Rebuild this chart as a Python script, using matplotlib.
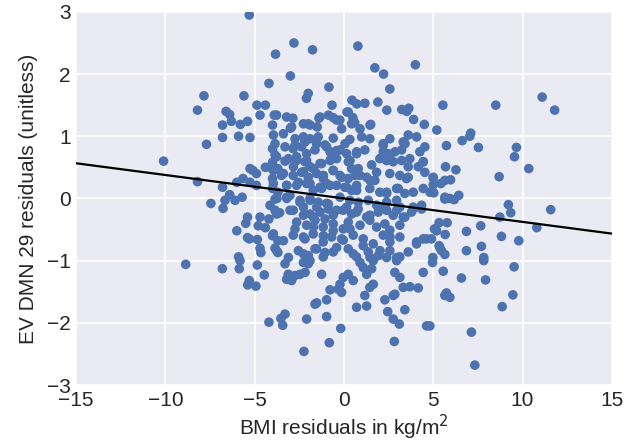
import numpy as np
import matplotlib
matplotlib.use("Agg")
import matplotlib.pyplot as plt

# residual pairs (BMI residual, EV DMN 29 residual)
pts = [
    # upper part
    (-5.3, 2.95), (-3.83, 2.32), (-3.0, 1.97), (-4.2, 1.85), (-7.84, 1.65), (-8.2, 1.42),
    (-5.6, 1.65), (-4.87, 1.5), (-4.4, 1.5), (-6.6, 1.4), (-6.4, 1.35), (-6.8, 1.18),
    (-6.3, 1.24), (-5.8, 1.19), (-5.4, 1.24), (-4.7, 1.34), (-3.9, 1.34), (-4.0, 1.18),
    (-2.8, 2.5), (-1.76, 2.39), (0.78, 2.45), (4.0, 2.15), (1.73, 2.1), (2.22, 2.0),
    (2.57, 1.76), (-0.84, 1.79), (-2.0, 1.69), (-2.1, 1.61), (-0.67, 1.5), (0.45, 1.58),
    (0.72, 1.52), (1.17, 1.53), (1.9, 1.55), (2.4, 1.42), (3.24, 1.43), (3.52, 1.4),
    (3.63, 1.45), (3.9, 1.27), (4.5, 1.19), (-2.86, 1.29), (-1.4, 1.29), (-0.6, 1.3),
    (-0.23, 1.26), (0.17, 1.39), (0.5, 1.3), (0.6, 1.22), (1.5, 1.19), (-2.0, 1.2),
    (-1.5, 1.15), (-3.0, 1.13), (5.54, 1.5), (8.5, 1.5), (11.1, 1.63), (11.8, 1.42),
    (5.2, 1.1), (7.1, 1.05),
    # left middle
    (-7.7, 0.87), (-10.1, 0.6), (-8.2, 0.27), (-6.8, 0.18), (-7.45, -0.08), (-6.77, -0.16),
    (-6.66, -0.03), (-6.4, 0.06), (-6.1, -0.03), (-5.7, 0.02), (-6.0, 0.26), (-5.65, 0.32),
    (-5.26, 0.26), (-5.1, 0.45), (-4.4, 0.5), (-4.9, 0.21), (-5.4, -0.3), (-5.5, -0.4),
    (-6.0, -0.52), (-4.7, -0.3), (-4.8, -0.44), (-4.4, -0.47), (-5.3, -0.65), (-5.4, -0.63),
    (-5.9, -0.94), (-4.7, -0.8), (-4.65, -0.87), (-4.0, -0.6), (-3.7, -0.68), (-3.86, -0.8),
    (-3.7, -0.87), (-6.8, 0.98), (-5.9, 1.0), (-5.26, 0.98), (-4.0, 0.8), (-3.86, 0.7),
    (-4.0, 0.58), (-4.14, 0.5), (-3.7, 0.48), (-3.5, 0.37), (-4.0, 0.32), (-4.0, 0.16),
    (-3.7, 0.1), (-3.75, 0.0), (-4.14, -0.11), (-3.86, -0.19), (-3.6, -0.23), (-3.3, 0.6),
    (-3.2, 0.21), (-3.2, 0.0), (-5.26, 0.48), (-4.9, 0.4), (-4.85, -0.66), (-4.2, -0.33),
    # dense centre
    (-2.74, 0.96), (-2.27, 0.99), (-1.9, 0.96), (-1.44, 0.99), (-0.6, 0.97), (0.33, 0.95),
    (0.99, 0.99), (1.45, 0.96), (2.2, 0.88), (2.57, 0.96), (3.32, 0.91), (3.6, 1.02), (4.07, 0.99),
    (-2.84, 0.8), (-2.37, 0.83), (-2.09, 0.72), (-1.62, 0.78), (-1.06, 0.86), (-0.78, 0.75),
    (-0.22, 0.78), (0.15, 0.72), (0.71, 0.75), (1.17, 0.78), (2.2, 0.75), (2.57, 0.69),
    (3.23, 0.78), (3.69, 0.64), (4.25, 0.75), (4.53, 0.83),
    (-2.65, 0.61), (-2.18, 0.59), (-1.9, 0.51), (-1.25, 0.56), (-0.78, 0.61), (-0.41, 0.64),
    (0.24, 0.59), (0.8, 0.48), (1.55, 0.54), (2.01, 0.64), (2.39, 0.61), (2.76, 0.59),
    (3.6, 0.51), (4.16, 0.51), (4.44, 0.59),
    (-2.84, 0.37), (-2.37, 0.42), (-2.0, 0.34), (-1.53, 0.4), (-1.16, 0.32), (-0.6, 0.45),
    (-0.22, 0.37), (0.24, 0.32), (0.61, 0.37), (1.27, 0.34), (1.73, 0.29), (2.57, 0.4),
    (3.13, 0.37), (3.5, 0.32), (4.53, 0.42),
    (-2.65, 0.21), (-2.09, 0.24), (-1.72, 0.13), (-1.25, 0.16), (-0.97, 0.24), (-0.41, 0.21),
    (0.05, 0.18), (0.43, 0.13), (0.71, 0.21), (1.45, 0.16), (2.01, 0.1), (2.39, 0.08),
    (2.95, 0.16), (3.41, 0.08), (3.88, 0.1), (4.44, 0.16),
    (-3.02, 0.05), (-2.46, -0.03), (-1.9, 0.0), (-1.44, -0.06), (-0.97, -0.08), (-0.22, 0.02),
    (0.33, -0.03), (0.8, -0.06), (1.36, -0.03), (1.83, -0.11), (2.39, -0.06), (2.95, -0.03),
    (3.13, -0.14), (3.88, -0.17), (4.35, -0.11),
    (-2.84, -0.19), (-2.27, -0.14), (-1.9, -0.25), (-1.34, -0.22), (-0.88, -0.17), (-0.6, -0.27),
    (-0.04, -0.19), (0.43, -0.25), (0.8, -0.17), (1.45, -0.27), (1.92, -0.22), (2.39, -0.19),
    (2.76, -0.27), (3.41, -0.3), (3.78, -0.22),
    (-2.65, -0.38), (-2.09, -0.43), (-1.62, -0.35), (-1.16, -0.46), (-0.6, -0.41), (-0.04, -0.49),
    (0.24, -0.38), (0.9, -0.43), (1.45, -0.35), (1.83, -0.46), (2.29, -0.41), (2.57, -0.51),
    (3.13, -0.43), (4.07, -0.7), (4.44, -0.65),
    (-2.84, -0.59), (-2.18, -0.65), (-1.72, -0.57), (-1.16, -0.7), (-0.69, -0.62), (-0.04, -0.67),
    (0.52, -0.59), (1.08, -0.65), (1.64, -0.73), (2.2, -0.59), (2.57, -0.7), (3.13, -0.62),
    (-2.55, -0.84), (-1.99, -0.92), (-1.53, -0.81), (-1.16, -0.94), (-0.6, -0.86), (0.24, -0.81),
    (0.71, -0.94), (1.36, -0.86), (1.92, -0.92), (2.57, -0.84), (3.13, -0.94), (3.6, -0.86),
    # dense centre, second reading
    (-3.77, 1.34), (-3.21, 1.31), (-2.93, 1.15), (-3.39, 1.04), (-3.95, 1.02), (-2.27, 1.2),
    (-1.9, 1.18), (-1.34, 1.31), (-0.87, 1.34), (-0.41, 1.26), (-0.13, 1.12), (0.43, 1.2),
    (0.9, 1.12), (1.46, 1.18), (0.24, 1.39),
    (-3.86, 0.88), (-3.3, 0.83), (-2.74, 0.855), (-2.18, 0.91), (-1.53, 0.88), (-0.97, 0.83),
    (-0.41, 0.77), (0.06, 0.88), (0.34, 0.61), (0.71, 0.72), (-3.77, 0.67), (-3.11, 0.64),
    (-2.65, 0.67), (-2.09, 0.61), (-1.34, 0.56), (-0.69, 0.67), (2.2, 0.855), (2.48, 0.72),
    (2.86, 0.75), (3.23, 0.61), (3.42, 0.88), (4.44, 0.59),
    (-3.95, 0.45), (-3.39, 0.4), (-2.83, 0.51), (-2.27, 0.43), (-1.71, 0.48), (-1.15, 0.37),
    (-0.6, 0.45), (-0.13, 0.34), (0.43, 0.48), (0.9, 0.37), (1.46, 0.29), (1.83, 0.42),
    (-3.95, 0.24), (-3.21, 0.21), (-2.55, 0.26), (-1.9, 0.24), (-1.34, 0.18), (-0.78, 0.21),
    (0.15, 0.18), (0.71, 0.13), (2.39, 0.1), (3.04, 0.16), (3.6, 0.34), (5.0, 0.34),
    (5.65, 0.29), (4.82, 0.1),
    (-3.86, -0.01), (-3.21, 0.02), (-2.46, -0.06), (-1.9, -0.03), (-1.53, -0.14), (-0.87, -0.09),
    (-0.41, -0.19), (0.15, -0.14), (0.71, -0.22), (1.27, -0.3), (-3.77, -0.25), (-3.02, -0.19),
    (-2.27, -0.27), (-1.71, -0.3), (-1.06, -0.33), (2.3, -0.14), (2.95, -0.19), (3.32, -0.3),
    (3.88, -0.14), (4.35, -0.17), (5.65, -0.01),
    (-3.95, -0.57), (-3.39, -0.68), (-2.74, -0.49), (-2.27, -0.62), (-1.71, -0.46), (-1.15, -0.6),
    (-0.6, -0.52), (-0.13, -0.65), (0.34, -0.49), (-3.77, -0.84), (-3.11, -0.95), (-2.27, -0.89),
    (-1.62, -0.81), (-1.06, -0.87), (-0.41, -0.79), (0.52, -0.89), (1.08, -0.76), (1.46, -0.95),
    (2.02, -0.84), (2.58, -0.62), (2.39, -0.95), (4.07, -0.73), (4.63, -0.65), (5.19, -0.52),
    (5.37, -0.79), (4.98, -0.95), (2.95, -0.95),
    # right middle
    (5.74, 0.85), (6.62, 0.93), (7.05, 1.0), (7.53, 0.82), (9.66, 0.82), (9.55, 0.67),
    (10.35, 0.48), (5.69, 0.51), (6.27, 0.46), (8.69, 0.35), (5.0, 0.33), (5.0, 0.22),
    (5.43, 0.24), (5.97, 0.3), (5.03, 0.09), (5.65, 0.02), (5.93, 0.0), (6.17, -0.02),
    (6.43, 0.05), (9.21, -0.1), (9.34, -0.23), (8.73, -0.3), (11.58, -0.18), (10.8, -0.47),
    (5.33, -0.39), (5.78, -0.39), (5.07, -0.49), (5.67, -0.58), (6.86, -0.53), (7.66, -0.44),
    (8.82, -0.61), (9.79, -0.68), (4.9, -0.65), (5.33, -0.76), (5.46, -0.84), (5.65, -0.9),
    (6.86, -0.84), (7.7, -0.77), (7.83, -0.95),
    # right lower
    (4.96, -1.03), (5.56, -1.17), (6.58, -1.28), (7.93, -1.31), (9.53, -1.1), (7.83, -1.0),
    (5.74, -1.52), (5.65, -1.56), (5.93, -1.59), (9.46, -1.55), (8.86, -1.74), (7.14, -2.15),
    (7.33, -2.68), (4.81, -2.05),
    # centre lower
    (-2.27, -1.03), (-2.0, -1.05), (-1.9, -1.0), (-2.74, -1.24), (-2.46, -1.22), (-2.18, -1.19),
    (-2.93, -1.32), (-1.25, -1.22), (-0.78, -1.47), (-0.97, -1.63), (-1.62, -1.7), (-1.53, -1.68),
    (-0.22, -1.38), (-0.04, -1.27), (0.24, -1.22), (0.52, -1.32), (-0.32, -1.46), (-0.13, -1.51),
    (0.9, -1.03), (1.08, -1.11), (1.27, -1.22), (1.55, -1.13), (1.64, -1.0), (1.64, -1.38),
    (1.45, -1.43), (1.17, -1.56), (0.71, -1.75), (1.27, -1.73), (2.29, -1.63), (2.76, -1.56),
    (2.85, -1.54), (2.85, -1.19), (3.13, -1.27), (3.32, -1.43), (3.69, -1.42), (4.16, -1.44),
    (4.44, -1.19), (2.95, -1.0), (2.45, -1.82), (3.41, -1.79), (2.76, -1.94), (3.1, -2.02),
    (4.63, -2.05), (2.82, -2.3), (-0.97, -1.9), (-2.09, -1.94), (-0.18, -2.09), (-0.82, -2.32),
    (-2.24, -2.46),
    # left lower
    (-8.86, -1.06), (-6.81, -1.13), (-5.86, -1.13), (-5.82, -1.0), (-4.85, -1.07), (-4.46, -1.23),
    (-5.3, -1.32), (-5.39, -1.39), (-4.93, -1.41), (-3.21, -1.3), (-3.12, -1.22), (-3.3, -1.05),
    (-4.2, -1.99), (-3.53, -1.93), (-3.3, -1.86), (-3.43, -2.04),
]
bmi_resid = [p[0] for p in pts]
dmn_resid = [p[1] for p in pts]

# fitted line as drawn in the reference
fit_intercept = 0.0
fit_slope = -0.0377
line_x = [-15, 15]

xticks = [-15, -10, -5, 0, 5, 10, 15]
yticks = [-3, -2, -1, 0, 1, 2, 3]

plt.rcParams['font.family'] = ['Liberation Sans', 'DejaVu Sans']

fig = plt.figure(figsize=(6.34, 4.40), dpi=100)
ax = fig.add_axes([0.12, 0.125, 0.845, 0.848])
ax.set_facecolor('#EAEAF2')
for s in ax.spines.values():
    s.set_visible(False)
ax.grid(True, color='white', linewidth=1.2)
ax.set_axisbelow(True)

ax.scatter(bmi_resid, dmn_resid, s=48, color='#4C72B0', edgecolors='none', zorder=2)
ax.plot(line_x, [fit_intercept + fit_slope * v for v in line_x], color='black', lw=1.6, zorder=3)

ax.set_xlim(-15, 15)
ax.set_ylim(-3, 3)
ax.set_xticks(xticks)
ax.set_yticks(yticks)
ax.tick_params(length=0, labelsize=15, colors='#262626', pad=4)
ax.set_xlabel('BMI residuals in kg/m$^2$', fontsize=15, color='#262626', labelpad=2)
ax.set_ylabel('EV DMN 29 residuals (unitless)', fontsize=15, color='#262626', labelpad=6)

fig.savefig('out.png', dpi=100)
